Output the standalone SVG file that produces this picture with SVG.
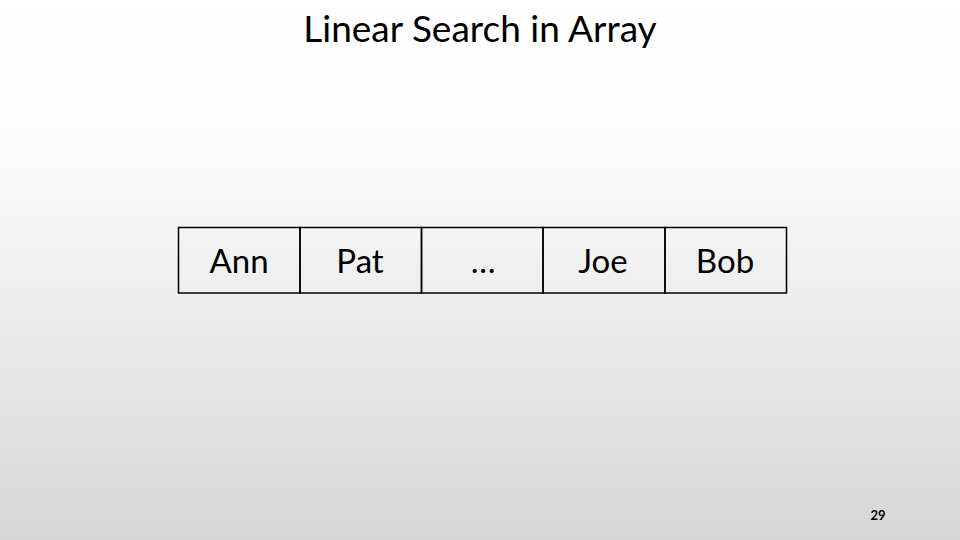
<svg xmlns="http://www.w3.org/2000/svg" width="960" height="540" viewBox="0 0 960 540">
<defs>
<linearGradient id="bg" x1="0" y1="0" x2="0" y2="1">
<stop offset="0" stop-color="#ffffff"/>
<stop offset="0.3" stop-color="#fbfbfb"/>
<stop offset="1" stop-color="#d6d6d6"/>
</linearGradient>
<style>
.cell rect{fill:none;stroke:#000;stroke-width:1.5}
.cell text{font-family:Lato,"Open Sans","Liberation Sans",sans-serif;font-size:33px;text-anchor:middle;fill:#000}
.title{font-family:Lato,"Open Sans","Liberation Sans",sans-serif;font-size:37px;text-anchor:middle;fill:#000}
.num{font-family:Lato,"Liberation Sans",sans-serif;font-size:13px;font-weight:bold;text-anchor:middle;fill:#000}
</style>
</defs>
<rect x="0" y="0" width="960" height="540" fill="url(#bg)"/>
<text class="title" x="480" y="42">Linear Search in Array</text>
<g id="cell-ann" class="cell"><rect x="178.5" y="227.5" width="121.5" height="65.5"/><text x="239" y="273">Ann</text></g>
<g id="cell-pat" class="cell"><rect x="300" y="227.5" width="121.5" height="65.5"/><text x="360" y="273">Pat</text></g>
<g id="cell-dots" class="cell"><rect x="421.5" y="227.5" width="121.5" height="65.5"/><text x="483" y="273">…</text></g>
<g id="cell-joe" class="cell"><rect x="543" y="227.5" width="122" height="65.5"/><text x="603" y="273">Joe</text></g>
<g id="cell-bob" class="cell"><rect x="665" y="227.5" width="121.5" height="65.5"/><text x="725" y="273">Bob</text></g>
<g id="connectors"></g>
<text class="num" x="878" y="520">29</text>
</svg>
